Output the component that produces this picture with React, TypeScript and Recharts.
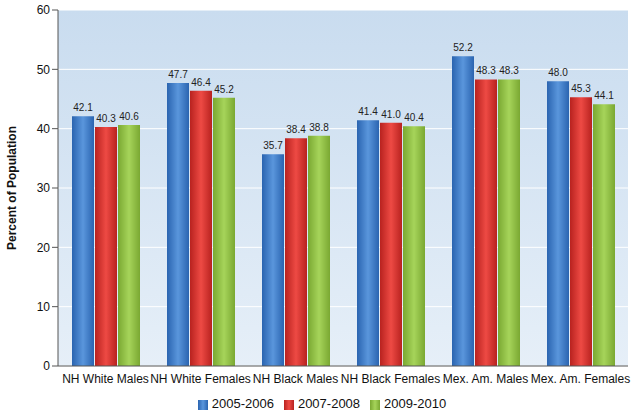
import React from "react";
import { BarChart, Bar, XAxis, YAxis, CartesianGrid, Legend, LabelList } from "recharts";

const categories = ["NH White Males", "NH White Females", "NH Black Males", "NH Black Females", "Mex. Am. Males", "Mex. Am. Females"];
const s2005 = [42.1, 47.7, 35.7, 41.4, 52.2, 48.0];
const s2007 = [40.3, 46.4, 38.4, 41.0, 48.3, 45.3];
const s2009 = [40.6, 45.2, 38.8, 40.4, 48.3, 44.1];
const yTicks = [0, 10, 20, 30, 40, 50, 60];

const data = categories.map((c, i) => ({ name: c, a: s2005[i], b: s2007[i], c: s2009[i] }));

const fmt = (v: number) => v.toFixed(1);

export default function App() {
  return (
    <div style={{ position: "absolute", left: 0, top: 0, fontFamily: "Liberation Sans, Arial, sans-serif" }}>
      <BarChart width={636} height={413} data={data} margin={{ top: 10, right: 8, bottom: 2, left: 26 }} barGap={1} barSize={22}>
        <defs>
          <linearGradient id="bg" x1="0" y1="0" x2="0" y2="1">
            <stop offset="0%" stopColor="#c9dcef" />
            <stop offset="100%" stopColor="#e6eff8" />
          </linearGradient>
          <linearGradient id="gb" x1="0" y1="0" x2="1" y2="0">
            <stop offset="0%" stopColor="#2a64b0" />
            <stop offset="50%" stopColor="#5a96dc" />
            <stop offset="100%" stopColor="#2a64b0" />
          </linearGradient>
          <linearGradient id="gr" x1="0" y1="0" x2="1" y2="0">
            <stop offset="0%" stopColor="#b8221f" />
            <stop offset="50%" stopColor="#ee4a44" />
            <stop offset="100%" stopColor="#b8221f" />
          </linearGradient>
          <linearGradient id="gg" x1="0" y1="0" x2="1" y2="0">
            <stop offset="0%" stopColor="#7aa832" />
            <stop offset="50%" stopColor="#a6d45a" />
            <stop offset="100%" stopColor="#7aa832" />
          </linearGradient>
        </defs>
        <CartesianGrid vertical={false} stroke="#ffffff" fill="url(#bg)" />
        <XAxis dataKey="name" tick={{ fill: "#111", fontSize: 12 }} tickLine={false} axisLine={{ stroke: "#555" }} interval={0} />
        <YAxis domain={[0, 60]} ticks={yTicks} tick={{ fill: "#111", fontSize: 12 }} axisLine={{ stroke: "#555" }} tickLine={{ stroke: "#555" }} width={32}
          label={{ value: "Percent of Population", angle: -90, position: "insideLeft", offset: -14, style: { textAnchor: "middle", fontWeight: "bold", fontSize: 12, fill: "#111" } }} />
        <Legend verticalAlign="bottom" iconType="square" iconSize={10} wrapperStyle={{ fontSize: 13, color: "#111" }}
          formatter={(v) => <span style={{ color: "#111" }}>{v}</span>} />
        <Bar dataKey="a" name="2005-2006" fill="url(#gb)" isAnimationActive={false}>
          <LabelList dataKey="a" position="top" formatter={fmt} style={{ fontSize: 10, fill: "#222" }} />
        </Bar>
        <Bar dataKey="b" name="2007-2008" fill="url(#gr)" isAnimationActive={false}>
          <LabelList dataKey="b" position="top" formatter={fmt} style={{ fontSize: 10, fill: "#222" }} />
        </Bar>
        <Bar dataKey="c" name="2009-2010" fill="url(#gg)" isAnimationActive={false}>
          <LabelList dataKey="c" position="top" formatter={fmt} style={{ fontSize: 10, fill: "#222" }} />
        </Bar>
      </BarChart>
    </div>
  );
}
